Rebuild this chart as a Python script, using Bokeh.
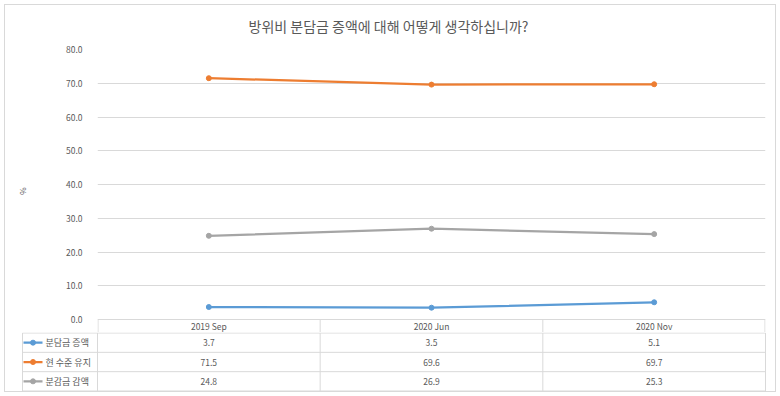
from bokeh.plotting import figure
from bokeh.layouts import column
from bokeh.models import FactorRange, Range1d, FixedTicker, NumeralTickFormatter, ColumnDataSource
from bokeh.core.properties import value
from bokeh.embed import file_html
from bokeh.resources import INLINE

# ---------------- data ----------------
title_text = "방위비 분담금 증액에 대해 어떻게 생각하십니까?"
categories = ["2019 Sep", "2020 Jun", "2020 Nov"]
series_names = ["분담금 증액", "현 수준 유지", "분감금 감액"]
increase = [3.7, 3.5, 5.1]
maintain = [71.5, 69.6, 69.7]
decrease = [24.8, 26.9, 25.3]
y_ticks = [0, 10, 20, 30, 40, 50, 60, 70, 80]
y_label = "%"

series_values = [increase, maintain, decrease]
colors = ["#5B9BD5", "#ED7D31", "#A5A5A5"]

FONT = "Noto Sans CJK KR"
TXT = "#595959"
GRID = "#D9D9D9"
W = 780

# layout constants (pixels)
FRAME_L, FRAME_R = 97, 765
PLOT_TOP, ZERO_Y = 49, 319
HEADER_H = 13
SCALE = (FRAME_R - FRAME_L) / len(categories)   # px per category
YPX = (ZERO_Y - PLOT_TOP) / (y_ticks[-1] - y_ticks[0])  # px per %

ncat = len(categories)


def clear_bg(fig):
    fig.background_fill_color = None
    fig.border_fill_color = None
    fig.outline_line_color = None


# ---------------- title ----------------
TITLE_H = 40
tf = figure(width=W, height=TITLE_H, x_range=Range1d(0, W), y_range=Range1d(0, TITLE_H),
            output_backend="svg", toolbar_location=None, min_border=0, frame_align=False)
tf.axis.visible = False
tf.grid.visible = False
clear_bg(tf)
tf.text(x=[388], y=[TITLE_H - 25], text=[title_text], text_font=value(FONT),
        text_font_size="14px", text_color=TXT, text_align="center", text_baseline="middle")

# ---------------- chart ----------------
ymin = -HEADER_H / YPX
p = figure(width=W, height=(ZERO_Y + HEADER_H) - TITLE_H,
           x_range=FactorRange(*categories), y_range=Range1d(ymin, y_ticks[-1]),
           output_backend="svg", toolbar_location=None,
           min_border_left=FRAME_L, min_border_right=W - FRAME_R,
           min_border_top=PLOT_TOP - TITLE_H, min_border_bottom=0, frame_align=False)
clear_bg(p)
p.xaxis.visible = False
p.xgrid.grid_line_color = None
p.ygrid.grid_line_color = GRID
p.ygrid.grid_line_width = 1
p.yaxis.ticker = FixedTicker(ticks=y_ticks)
p.yaxis.formatter = NumeralTickFormatter(format="0.0")
p.yaxis.axis_line_color = None
p.yaxis.major_tick_line_color = None
p.yaxis.minor_tick_line_color = None
p.yaxis.major_label_standoff = 9
p.yaxis.major_label_text_font = FONT
p.yaxis.major_label_text_font_size = "8.5px"
p.yaxis.major_label_text_color = TXT
p.yaxis.axis_label = y_label
p.yaxis.axis_label_text_font = FONT
p.yaxis.axis_label_text_font_size = "8px"
p.yaxis.axis_label_text_font_style = "normal"
p.yaxis.axis_label_text_color = TXT
p.yaxis.axis_label_standoff = 35

for name, vals, col in zip(series_names, series_values, colors):
    src = ColumnDataSource(dict(x=categories, y=vals))
    p.line("x", "y", source=src, line_color=col, line_width=2.25)
    p.scatter("x", "y", source=src, size=5, fill_color=col, line_color=col)

# table header row (inside chart frame, below zero)
edge = 0.5 / SCALE
vx = [0 + edge] + list(range(1, ncat)) + [ncat - edge]
p.segment(x0=vx, x1=vx, y0=[0] * len(vx), y1=[ymin] * len(vx), line_color=GRID, line_width=1)
hx = [i + 0.5 for i in range(ncat)]
p.text(x=hx, y=[ymin / 2] * ncat, text=categories, text_font=value(FONT), text_font_size="8.5px",
       text_color=TXT, text_align="center", text_baseline="middle")

# ---------------- data table rows ----------------
LEG_PX = 75
TABLE_H = 59
BOTTOM_PAD = 5
left = -LEG_PX / SCALE
t = figure(width=W, height=TABLE_H + BOTTOM_PAD,
           x_range=Range1d(-(LEG_PX + 1) / SCALE, ncat + 1 / SCALE),
           y_range=Range1d(0, TABLE_H), output_backend="svg", toolbar_location=None,
           min_border_left=FRAME_L - LEG_PX - 1, min_border_right=W - FRAME_R - 1,
           min_border_top=0, min_border_bottom=BOTTOM_PAD, frame_align=False)
t.axis.visible = False
t.grid.visible = False
clear_bg(t)

n = len(series_names)
ROW_H = (TABLE_H - 1) / n
bounds = [0.5 + k * ROW_H for k in range(n + 1)]

t.segment(x0=[left] * len(bounds), x1=[ncat] * len(bounds), y0=bounds, y1=bounds,
          line_color=GRID, line_width=1)
tvx = [left] + list(range(ncat + 1))
t.segment(x0=tvx, x1=tvx, y0=[bounds[0]] * len(tvx), y1=[bounds[-1]] * len(tvx),
          line_color=GRID, line_width=1)

for i, (name, vals, col) in enumerate(zip(series_names, series_values, colors)):
    yc = bounds[-1] - (i + 0.5) * ROW_H
    t.text(x=hx, y=[yc] * ncat, text=[f"{v:.1f}" for v in vals], text_font=value(FONT),
           text_font_size="8.5px", text_color=TXT, text_align="center", text_baseline="middle")
    lx0 = left + 1 / SCALE
    lx1 = left + 20 / SCALE
    t.segment(x0=[lx0], x1=[lx1], y0=[yc], y1=[yc], line_color=col, line_width=2.25)
    t.scatter(x=[(lx0 + lx1) / 2], y=[yc], size=5, fill_color=col, line_color=col)
    t.text(x=[left + 23 / SCALE], y=[yc], text=[name], text_font=value(FONT),
           text_font_size="9px", text_color=TXT, text_align="left", text_baseline="middle")

layout = column(tf, p, t, spacing=0,
                styles={"outline": "1px solid #D9D9D9", "outline-offset": "-5px",
                        "background-color": "white"})
open("out.html", "w").write(file_html(layout, INLINE))
